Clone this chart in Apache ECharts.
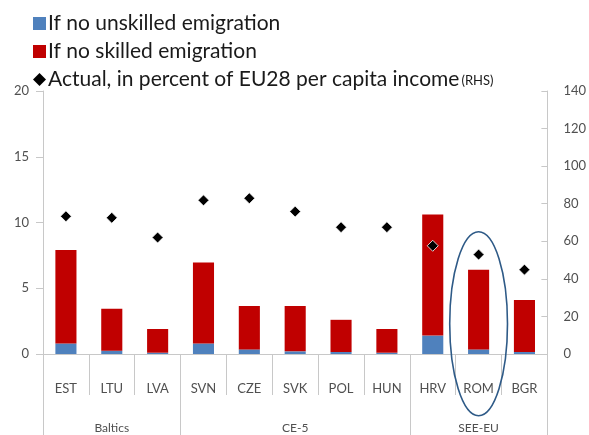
<!DOCTYPE html>
<html>
<head>
<meta charset="utf-8">
<script src="https://cdn.jsdelivr.net/npm/echarts@6/dist/echarts.min.js"></script>
<style>
  html, body { margin: 0; padding: 0; background: #fff; }
  #chart { width: 589px; height: 435px; }
</style>
</head>
<body>
<div id="chart"></div>
<script>
const categories = ["EST", "LTU", "LVA", "SVN", "CZE", "SVK", "POL", "HUN", "HRV", "ROM", "BGR"];
const groupLabels = ["", "Baltics", "", "", "", "CE-5", "", "", "", "SEE-EU", ""];
const groupStarts = [0, 3, 8];
const unskilled = [0.8, 0.25, 0.1, 0.8, 0.35, 0.2, 0.15, 0.1, 1.4, 0.35, 0.15];
const skilled = [7.1, 3.2, 1.8, 6.15, 3.3, 3.45, 2.45, 1.8, 9.2, 6.05, 3.95];
const actual = [73.3, 72.5, 62, 81.8, 82.9, 75.8, 67.5, 67.5, 57.6, 52.9, 44.9];
const leftTicks = [0, 20, 5];   // min, max, interval
const rightTicks = [0, 140, 20];

const chart = echarts.init(document.getElementById("chart"));
const lineGrey = "#c8c8c8";
const labelGrey = "#505050";
const font = "Lato";

chart.setOption({
  animation: false,
  textStyle: { fontFamily: font },
  grid: { left: 43, right: 40, top: 91, bottom: 81 },
  legend: {
    orient: "vertical",
    left: 28,
    top: 8,
    itemGap: 7,
    itemWidth: 13,
    itemHeight: 13,
    textStyle: {
      fontSize: 21,
      color: "#1a1a1a",
      fontFamily: font,
      padding: [0, 0, 0, -3],
      rich: { s: { fontSize: 13, color: "#1a1a1a", fontFamily: font, padding: [3, 0, 0, 2] } }
    },
    formatter: function (name) {
      if (name.indexOf("Actual") === 0) return name + "{s|(RHS)}";
      return name;
    },
    data: [
      { name: "If no unskilled emigration", icon: "rect" },
      { name: "If no skilled emigration", icon: "rect" },
      { name: "Actual, in percent of EU28 per capita income", icon: "diamond", itemStyle: { borderWidth: 0 } }
    ]
  },
  xAxis: [
    {
      type: "category",
      data: categories,
      position: "bottom",
      axisLine: { show: true, lineStyle: { color: lineGrey } },
      axisTick: { show: true, length: 41, interval: 0, lineStyle: { color: lineGrey } },
      axisLabel: { interval: 0, margin: 28, fontSize: 13, color: labelGrey }
    },
    {
      type: "category",
      data: groupLabels,
      position: "bottom",
      axisLine: { show: false },
      axisTick: {
        show: true,
        length: 82,
        interval: function (i) { return groupStarts.indexOf(i) >= 0; },
        lineStyle: { color: lineGrey }
      },
      axisLabel: { interval: 0, margin: 68, fontSize: 12, color: labelGrey }
    }
  ],
  yAxis: [
    {
      type: "value",
      min: leftTicks[0], max: leftTicks[1], interval: leftTicks[2],
      axisLine: { show: true, lineStyle: { color: lineGrey } },
      axisTick: { show: true, length: 7, lineStyle: { color: lineGrey } },
      axisLabel: { margin: 14, fontSize: 13, color: labelGrey },
      splitLine: { show: false }
    },
    {
      type: "value",
      min: rightTicks[0], max: rightTicks[1], interval: rightTicks[2],
      position: "right",
      axisLine: { show: true, lineStyle: { color: lineGrey } },
      axisTick: { show: true, inside: true, length: 6, lineStyle: { color: lineGrey } },
      axisLabel: { margin: 16, fontSize: 13, color: labelGrey },
      splitLine: { show: false }
    }
  ],
  series: [
    {
      name: "If no unskilled emigration",
      type: "bar",
      stack: "a",
      barWidth: "46%",
      data: unskilled,
      itemStyle: { color: "#4f81bd" }
    },
    {
      name: "If no skilled emigration",
      type: "bar",
      stack: "a",
      barWidth: "46%",
      data: skilled,
      itemStyle: { color: "#c00000" }
    },
    {
      name: "Actual, in percent of EU28 per capita income",
      type: "scatter",
      yAxisIndex: 1,
      symbol: "diamond",
      symbolSize: 11,
      data: actual,
      itemStyle: { color: "#000", borderColor: "#fff", borderWidth: 0.8, opacity: 1 },
      z: 5
    }
  ]
});

// ellipse highlighting ROM, and the closing group separator on the right edge
const centre = chart.convertToPixel({ xAxisIndex: 0, yAxisIndex: 0 }, ["ROM", 2.3]);
const ellTop = chart.convertToPixel({ yAxisIndex: 0 }, 9.3);
const zeroY = chart.convertToPixel({ yAxisIndex: 0 }, 0);
const band = chart.convertToPixel({ xAxisIndex: 0 }, "BGR") - chart.convertToPixel({ xAxisIndex: 0 }, "ROM");
const rightEdge = Math.round(chart.convertToPixel({ xAxisIndex: 0 }, "BGR") + band / 2) + 0.5;
chart.setOption({
  graphic: [
    {
      type: "ellipse",
      shape: { cx: centre[0], cy: centre[1], rx: band * 0.63, ry: centre[1] - ellTop },
      style: { fill: "none", stroke: "#2e5a87", lineWidth: 1.6 },
      z: 10
    },
    {
      type: "line",
      shape: { x1: rightEdge, y1: zeroY, x2: rightEdge, y2: zeroY + 82 },
      style: { stroke: lineGrey, lineWidth: 1 },
      z: 1
    }
  ]
});
</script>
</body>
</html>
